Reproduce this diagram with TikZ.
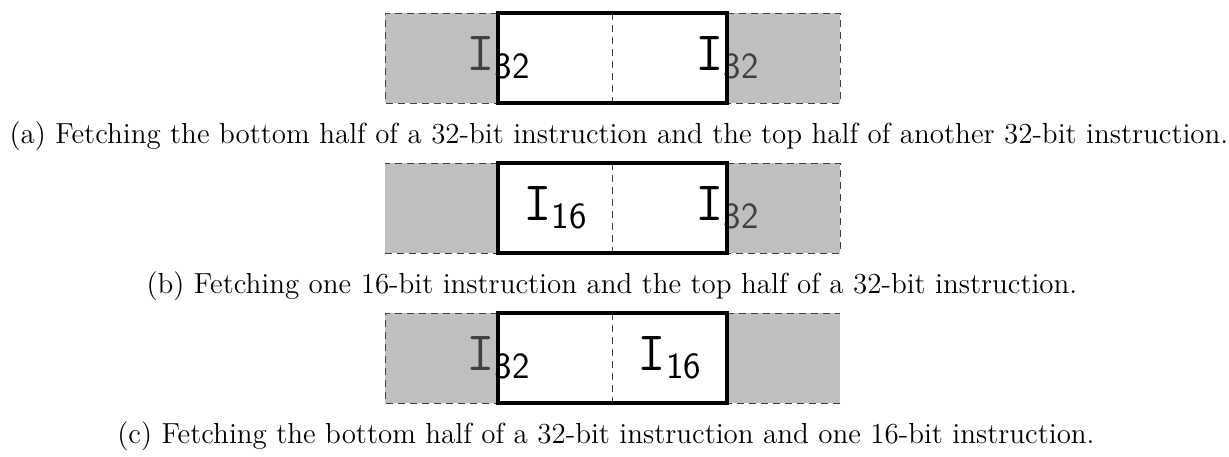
\documentclass[tikz,border=0pt]{standalone}
\newcommand{\instrlabel}[1]{{\fontsize{27.8}{30}\selectfont\ttfamily I}\raisebox{-4pt}{\fontsize{18.5}{20}\selectfont\sffamily #1}}
\begin{document}
\begin{tikzpicture}[x=0.5pt,y=-0.5pt,
  greycell/.style={fill=gray,fill opacity=0.5,draw=none},
  dline/.style={draw=black!75,line width=0.5pt,dash pattern=on 3.5pt off 2.5pt},
  thickbox/.style={draw=black,line width=2pt},
  instr/.style={inner sep=0pt},
  captext/.style={anchor=base,inner sep=0pt,font=\fontsize{14.5}{17}\selectfont}]
\useasboundingbox (0,0) rectangle (1229,456);
% ---------- row (a) ----------
\node[instr] (a1) at (498,58) {\instrlabel{32}};
\node[instr] (a2) at (727,58) {\instrlabel{32}};
\fill[greycell] (385,13) rectangle (498,103);
\fill[greycell] (727,13) rectangle (840,103);
\draw[dline] (498,13) -- (385,13) -- (385,103) -- (498,103);
\draw[dline] (727,13) -- (840,13) -- (840,103) -- (727,103);
\draw[dline] (612,13) -- (612,103);
\draw[thickbox] (498,13) rectangle (727,103);
\node[captext] (ca) at (619,143) {(a) Fetching the bottom half of a 32-bit instruction and the top half of another 32-bit instruction.};
% ---------- row (b) ----------
\node[instr] (b1) at (555,208) {\instrlabel{16}};
\node[instr] (b2) at (727,208) {\instrlabel{32}};
\fill[greycell] (385,163) rectangle (498,253);
\fill[greycell] (727,163) rectangle (840,253);
\draw[dline] (498,163) -- (385,163);
\draw[dline] (385,253) -- (498,253);
\draw[dline] (727,163) -- (840,163) -- (840,253) -- (727,253);
\draw[dline] (612,163) -- (612,253);
\draw[thickbox] (498,163) rectangle (727,253);
\node[captext] (cb) at (612,293) {(b) Fetching one 16-bit instruction and the top half of a 32-bit instruction.};
% ---------- row (c) ----------
\node[instr] (c1) at (498,358) {\instrlabel{32}};
\node[instr] (c2) at (669.5,358) {\instrlabel{16}};
\fill[greycell] (385,313) rectangle (498,403);
\fill[greycell] (727,313) rectangle (840,403);
\draw[dline] (498,313) -- (385,313) -- (385,403) -- (498,403);
\draw[dline] (727,313) -- (840,313);
\draw[dline] (840,403) -- (727,403);
\draw[dline] (612,313) -- (612,403);
\draw[thickbox] (498,313) rectangle (727,403);
\node[captext] (cc) at (606,443) {(c) Fetching the bottom half of a 32-bit instruction and one 16-bit instruction.};
\end{tikzpicture}
\end{document}
